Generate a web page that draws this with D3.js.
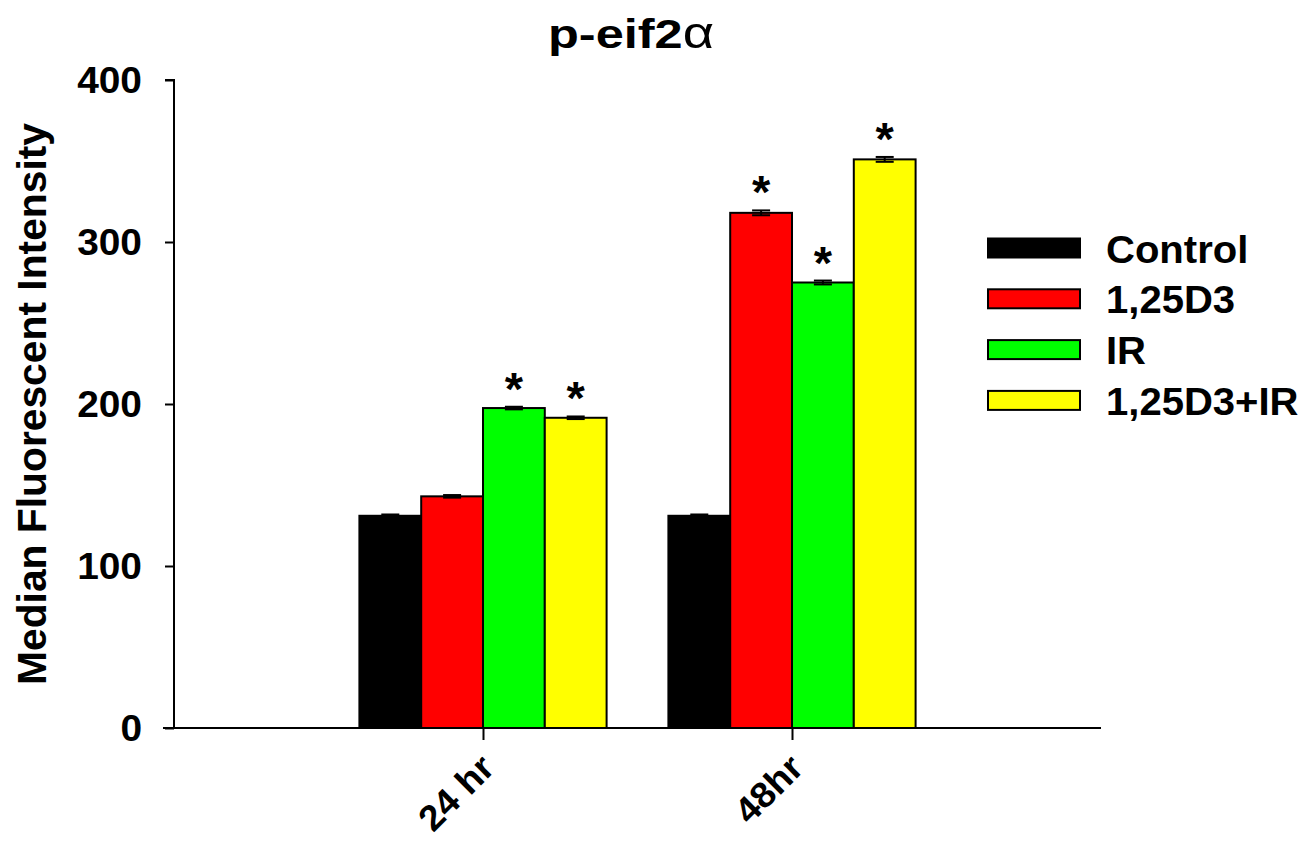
<!DOCTYPE html>
<html><head><meta charset="utf-8">
<script src="https://cdn.jsdelivr.net/npm/d3@7"></script>
<style>body{margin:0;background:#fff}svg{display:block;font-family:"Liberation Sans",Arial,sans-serif;font-weight:bold}</style>
</head><body>
<script>
const categories = ["24 hr", "48hr"];
const seriesNames = ["Control", "1,25D3", "IR", "1,25D3+IR"];
const seriesColors = ["#000000", "#ff0000", "#00ff00", "#ffff00"];
const control = [131, 131];
const d3only = [143, 318];
const ir = [197.5, 275];
const combo = [191.5, 351];
const errControl = [0.8, 0.8];
const errD3 = [0.8, 1.5];
const errIR = [0.8, 1.2];
const errCombo = [0.8, 1.5];
const significant = [[false, false], [false, true], [true, true], [true, true]];
const yTicks = [0, 100, 200, 300, 400];

const series = [control, d3only, ir, combo];
const errs = [errControl, errD3, errIR, errCombo];

const W = 1315, H = 841;
const FONT = "Liberation Sans, Arial, sans-serif";
const svg = d3.select("body").append("svg").attr("width", W).attr("height", H);

const x = d3.scaleLinear().domain([0, 3]).range([174, 1101]);
const y = d3.scaleLinear().domain([0, 400]).range([728, 80]);
const barW = 0.2;

function stretch(sel, factor) {
  sel.each(function () {
    const len = this.getComputedTextLength();
    d3.select(this).attr("textLength", len * factor).attr("lengthAdjust", "spacingAndGlyphs");
  });
}

// bars
series.forEach((vals, si) => {
  vals.forEach((v, ci) => {
    const x0 = x(ci + 1 - 0.4 + si * barW);
    const x1 = x(ci + 1 - 0.4 + (si + 1) * barW);
    svg.append("rect").attr("x", x0).attr("y", y(v)).attr("width", x1 - x0).attr("height", y(0) - y(v))
      .attr("fill", seriesColors[si]).attr("stroke", "#000").attr("stroke-width", 2);
    const cx = (x0 + x1) / 2, e = errs[si][ci];
    const g = svg.append("g").attr("stroke", "#000").attr("stroke-width", 2);
    g.append("line").attr("x1", cx).attr("x2", cx).attr("y1", y(v + e)).attr("y2", y(v - e));
    g.append("line").attr("x1", cx - 9).attr("x2", cx + 9).attr("y1", y(v + e)).attr("y2", y(v + e));
    g.append("line").attr("x1", cx - 9).attr("x2", cx + 9).attr("y1", y(v - e)).attr("y2", y(v - e));
    if (significant[si][ci]) {
      svg.append("text").attr("x", cx).attr("y", y(v + e) - 2).attr("text-anchor", "middle")
        .attr("font-size", 47).text("*");
    }
  });
});

// y axis
const yAxis = svg.append("g").attr("transform", "translate(174,0)")
  .call(d3.axisLeft(y).tickValues(yTicks).tickSize(9).tickPadding(23));
yAxis.selectAll("text").attr("font-size", 36).attr("font-weight", "bold").attr("font-family", FONT).attr("fill", "#000").attr("dy", "0.36em");
stretch(yAxis.selectAll("text"), 1.08);
yAxis.select(".domain").attr("stroke-width", 2).attr("d", "M-9,80H0V728");
yAxis.selectAll(".tick line").attr("stroke-width", 2);

// x axis
const xAxis = svg.append("g").attr("transform", "translate(0,728)")
  .call(d3.axisBottom(x).tickValues([1, 2]).tickFormat((d) => categories[d - 1]).tickSize(12));
xAxis.select(".domain").attr("stroke-width", 2).attr("d", "M163,0H1101");
xAxis.selectAll(".tick line").attr("stroke-width", 2);
xAxis.selectAll("text").attr("font-size", 36).attr("font-weight", "bold").attr("font-family", FONT).attr("fill", "#000")
  .attr("text-anchor", "end").attr("dy", "0.35em").attr("y", 0)
  .attr("transform", "translate(4,33) rotate(-45)");
stretch(xAxis.selectAll("text"), 1.04);

// title
const title = svg.append("text").attr("x", 631).attr("y", 48).attr("text-anchor", "middle").attr("font-size", 41)
  .attr("textLength", 166).attr("lengthAdjust", "spacingAndGlyphs");
title.append("tspan").text("p-eif2");
title.append("tspan").attr("font-weight", "normal").attr("font-size", 44).text("α");

// y label
svg.append("text").attr("transform", "translate(46,404) rotate(-90)").attr("text-anchor", "middle")
  .attr("font-size", 40).attr("textLength", 562).attr("lengthAdjust", "spacingAndGlyphs")
  .text("Median Fluorescent Intensity");

// legend
seriesNames.forEach((n, i) => {
  const cy = 248 + i * 50.8;
  svg.append("rect").attr("x", 988).attr("y", cy - 9.5).attr("width", 92).attr("height", 19)
    .attr("fill", seriesColors[i]).attr("stroke", "#000").attr("stroke-width", 2);
  const t = svg.append("text").attr("x", 1106).attr("y", cy + 14.5).attr("font-size", 38.5).text(n);
  stretch(t, 1.04);
});
</script>
</body></html>
